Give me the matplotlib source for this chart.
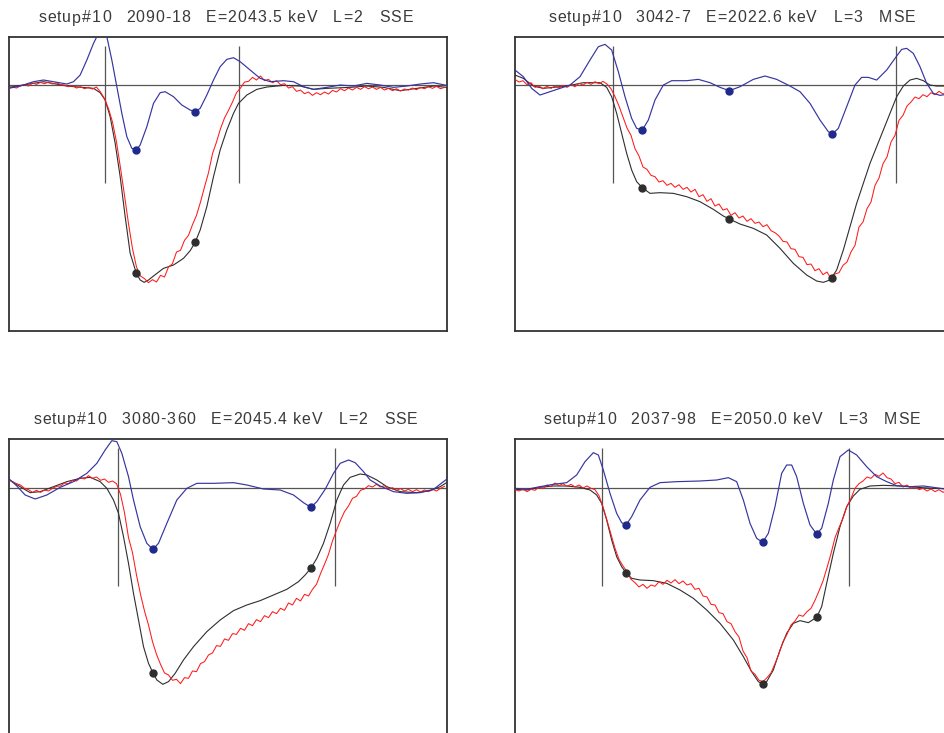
import numpy as np
import matplotlib
matplotlib.use("Agg")
import matplotlib.pyplot as plt

plt.rcParams['font.family'] = ['Liberation Sans', 'DejaVu Sans']

# ---------------- data (sample position, amplitude; baseline = 0) ----------------
titles = [
    ["setup#10", "2090-18", "E=2043.5 keV", "L=2", "SSE"],
    ["setup#10", "3042-7", "E=2022.6 keV", "L=3", "MSE"],
    ["setup#10", "3080-360", "E=2045.4 keV", "L=2", "SSE"],
    ["setup#10", "2037-98", "E=2050.0 keV", "L=3", "MSE"],
]
red_step = 12

# ---- panel 1 ----
p1_black_x = [0,105,175,255,275,290,305,320,335,350,365,383,395,407,420,435,465,495,525,545,560,575,595,615,635,655,675,690,715,745,775,825,875,915,955,1025,1075,1125,1175,1225,1275,1314]
p1_black_y = [-6,11,-2,-9,-22,-44,-94,-174,-274,-394,-504,-562,-584,-591,-584,-572,-549,-539,-519,-496,-471,-434,-364,-274,-194,-134,-84,-54,-29,-12,-5,0,-2,-12,-9,-6,-2,-6,-16,-9,-2,-6]
p1_blue_x = [0,35,75,105,135,175,195,215,235,255,270,280,295,310,325,340,355,370,383,395,415,435,455,470,495,520,545,560,575,595,615,635,655,675,695,725,755,785,825,855,885,915,955,995,1035,1075,1115,1155,1195,1235,1275,1314]
p1_blue_y = [-9,-2,11,16,11,4,11,31,76,126,156,166,146,76,-4,-84,-154,-189,-194,-179,-124,-54,-22,-19,-34,-59,-74,-79,-69,-29,16,56,78,83,71,46,21,11,14,11,-4,-12,-6,1,-2,6,1,-6,-2,4,8,0]
p1_red_y = [-9,-5,-8,-1,2,-2,7,3,9,5,10,4,8,2,1,-4,-1,-8,-4,-10,-6,-11,-5,-20,-40,-70,-110,-170,-248,-330,
            -415,-490,-545,-572,-580,-592,-583,-590,-570,-575,-545,-535,-500,-495,-465,-450,-418,-390,-350,-305,
            -262,-205,-170,-130,-98,-75,-50,-22,-8,10,12,24,16,28,14,18,8,14,2,5,
            -8,-4,-18,-14,-25,-20,-30,-22,-28,-20,-26,-15,-20,-10,-16,-8,-14,-6,-12,-4,
            -10,-5,-12,-6,-14,-9,-16,-10,-17,-11,-14,-8,-13,-6,-10,-4,-9,-3,-10,-6]
p1_marks_x = [383, 560]
p1_black_marks_y = [-562, -471]
p1_blue_marks_y = [-194, -79]
p1_vlines = [288, 691]

# ---- panel 2 ----
p2_black_x = [0,25,55,85,115,155,205,255,275,290,305,320,335,350,365,382,405,435,475,515,555,595,625,643,675,715,755,795,835,875,905,925,945,965,985,1005,1025,1045,1065,1085,1105,1125,1145,1165,1185,1205,1225,1245,1265,1314]
p2_black_y = [31,21,-2,-9,-6,-2,8,8,-6,-34,-84,-144,-204,-254,-289,-307,-324,-322,-324,-334,-349,-372,-392,-401,-416,-429,-449,-489,-534,-569,-587,-591,-584,-554,-494,-424,-354,-294,-234,-184,-134,-84,-34,-2,16,21,14,1,-2,-2]
p2_blue_x = [0,25,50,75,105,135,165,195,225,250,270,290,310,330,350,365,382,400,420,445,470,515,550,585,615,643,675,715,750,785,825,855,885,915,940,952,970,995,1020,1040,1060,1085,1115,1140,1160,1175,1195,1215,1235,1255,1275,1295,1314]
p2_blue_y = [46,26,-9,-29,-19,-9,1,26,76,116,123,106,41,-34,-99,-129,-134,-104,-44,1,14,14,18,8,-6,-16,-4,18,28,18,-2,-19,-54,-104,-139,-146,-129,-64,1,24,24,16,46,81,108,111,96,56,6,-24,-30,-27,-27]
p2_red_y = [18,10,14,2,8,-6,-2,-10,-3,-9,-2,-8,0,-6,2,-4,6,1,9,3,11,5,12,4,-10,-34,-62,-95,-128,-150,
            -190,-212,-245,-252,-270,-274,-290,-286,-300,-294,-306,-298,-312,-306,-320,-312,-334,-328,-348,-340,
            -362,-356,-374,-370,-390,-382,-398,-392,-408,-400,-414,-410,-424,-418,-436,-442,-452,-468,-470,-490,
            -492,-514,-516,-538,-536,-556,-550,-568,-560,-580,-566,-562,-540,-530,-500,-480,-425,-410,-370,-350,
            -300,-278,-235,-215,-170,-150,-105,-90,-62,-50,-35,-40,-28,-34,-22,-28,-18,-26,-20,-24]
p2_marks_x = [382, 643, 952]
p2_black_marks_y = [-307, -401, -579]
p2_blue_marks_y = [-134, -16, -146]
p2_vlines = [295, 1143]

# ---- panel 3 ----
p3_black_x = [0,35,65,95,135,175,215,245,275,295,315,330,345,360,375,390,405,420,433,445,463,480,500,525,555,595,635,675,715,755,795,835,870,890,907,925,945,965,985,1005,1025,1055,1075,1105,1135,1175,1225,1265,1295,1314]
p3_black_y = [25,3,-15,-12,3,18,28,31,18,-2,-37,-77,-147,-227,-317,-397,-477,-527,-555,-577,-590,-582,-557,-517,-477,-432,-397,-369,-352,-339,-322,-305,-282,-262,-242,-212,-167,-107,-37,8,31,41,38,23,3,-12,-15,-9,3,15]
p3_blue_x = [0,25,50,80,115,155,195,235,265,290,310,325,340,360,375,395,415,433,450,475,505,535,565,615,675,715,765,815,855,885,907,925,950,975,995,1020,1040,1065,1085,1115,1155,1195,1235,1275,1314]
p3_blue_y = [28,5,-22,-34,-22,1,18,43,73,113,141,138,103,33,-37,-117,-167,-185,-167,-107,-37,-2,13,13,15,8,-4,-7,-22,-45,-59,-42,-5,43,73,83,75,48,23,5,-12,-17,-15,-5,25]
p3_red_y = [24,18,12,8,-2,-6,-14,-8,-14,-7,-10,-2,4,5,14,12,22,20,30,26,36,28,32,22,26,16,20,12,-20,-75,
            -150,-195,-262,-320,-370,-412,-462,-500,-530,-556,-562,-578,-575,-588,-570,-572,-550,-552,-528,-522,
            -502,-496,-474,-476,-454,-458,-438,-440,-422,-428,-408,-414,-396,-402,-384,-390,-372,-378,-362,-368,
            -346,-352,-332,-340,-320,-325,-305,-290,-258,-230,-200,-160,-128,-98,-72,-55,-32,-26,-8,-4,
            6,2,10,2,6,-4,0,-8,-3,-10,-5,-12,-6,-13,-7,-12,-5,-10,-2,4]
p3_marks_x = [433, 907]
p3_black_marks_y = [-555, -242]
p3_blue_marks_y = [-185, -59]
p3_vlines = [327, 980]

# ---- panel 4 ----
p4_black_x = [0,35,75,115,155,195,225,245,260,275,290,305,320,333,350,375,415,455,495,535,575,615,655,685,710,730,743,755,775,795,815,835,855,880,905,920,935,955,975,995,1015,1035,1065,1105,1155,1205,1255,1295,1314]
p4_black_y = [-5,-7,1,5,5,1,-7,-22,-47,-97,-157,-207,-237,-255,-272,-277,-279,-287,-307,-332,-367,-407,-457,-507,-552,-582,-589,-582,-547,-487,-437,-407,-399,-405,-389,-357,-287,-197,-117,-57,-25,-5,5,7,5,1,-2,-3,-3]
p4_blue_x = [0,35,75,115,155,185,210,235,250,265,285,305,320,333,350,375,405,435,485,555,605,640,665,685,705,725,743,760,780,800,815,830,845,865,885,905,920,940,955,975,1000,1025,1055,1085,1115,1145,1185,1225,1255,1295,1314]
p4_blue_y = [-2,-5,3,10,15,38,78,105,98,53,-17,-77,-105,-112,-87,-37,1,15,18,20,23,30,18,-37,-107,-152,-164,-137,-57,43,68,68,33,-47,-112,-139,-122,-47,23,93,113,98,63,33,18,6,3,5,1,-5,-8]
p4_red_y = [-6,-10,-4,-12,-5,-8,2,-3,8,3,14,6,12,4,10,2,8,-1,5,-2,-6,-24,-58,-98,-140,-182,-215,-235,-252,-275,
            -285,-298,-290,-302,-292,-296,-282,-290,-278,-286,-276,-288,-280,-292,-288,-305,-302,-325,-328,-350,
            -352,-375,-378,-402,-408,-432,-448,-490,-510,-550,-560,-578,-582,-570,-556,-528,-498,-462,-440,-412,
            -400,-382,-386,-372,-362,-338,-310,-280,-240,-198,-150,-120,-92,-56,-32,-2,12,20,32,28,
            40,34,44,30,26,12,16,2,8,-2,4,-6,-2,-10,-4,-12,-6,-14,-8,-12]
p4_marks_x = [333, 743, 905]
p4_black_marks_y = [-255, -589, -389]
p4_blue_marks_y = [-112, -164, -139]
p4_vlines = [262, 1003]

vline_range = (118, -294)

panels = [
    (p1_black_x, p1_black_y, p1_blue_x, p1_blue_y, p1_red_y, p1_marks_x, p1_black_marks_y, p1_blue_marks_y, p1_vlines),
    (p2_black_x, p2_black_y, p2_blue_x, p2_blue_y, p2_red_y, p2_marks_x, p2_black_marks_y, p2_blue_marks_y, p2_vlines),
    (p3_black_x, p3_black_y, p3_blue_x, p3_blue_y, p3_red_y, p3_marks_x, p3_black_marks_y, p3_blue_marks_y, p3_vlines),
    (p4_black_x, p4_black_y, p4_blue_x, p4_blue_y, p4_red_y, p4_marks_x, p4_black_marks_y, p4_blue_marks_y, p4_vlines),
]

# ---------------- layout ----------------
W, H = 944, 733
fig = plt.figure(figsize=(W / 100, H / 100), dpi=100)
fig.patch.set_facecolor('white')
renderer = fig.canvas.get_renderer()

ax_w, ax_h = 438, 294.3
frames = [(8.5, 36.7), (515, 36.7), (8.5, 439), (515, 439)]   # left, top in pixels
# left pixel position of each title token, and title baseline
token_x = [
    [38.3, 126, 206, 333, 379],
    [548.3, 635, 706, 833.3, 879],
    [33.3, 121, 211, 338.3, 384],
    [543.3, 630.7, 711, 838.3, 884],
]
title_base = [22.5, 22.5, 424.0, 424.0]
title_fs = 11.4
letter_gap = 1.0   # px of extra tracking between letters

blue_c = '#3535a0'
dot_blue = '#1f2a8a'
black_c = '#2e2e2e'
red_c = '#ff1a1a'
grey_c = '#555555'


def spaced_text(x_px, y_px, s):
    x = x_px
    for ch in s:
        if ch == ' ':
            x += 0.278 * title_fs * 100 / 72 + letter_gap
            continue
        t = fig.text(x / W, 1 - y_px / H, ch, ha='left', va='baseline',
                     fontsize=title_fs, color='#3a3a3a')
        bb = t.get_window_extent(renderer)
        x += bb.width + letter_gap


for i, (bx, by, ux, uy, ry, mx, mby, muy, vl) in enumerate(panels):
    left, top = frames[i]
    ax = fig.add_axes([left / W, (H - top - ax_h) / H, ax_w / W, ax_h / H])
    ax.set_xlim(0, 1314)
    ax.set_ylim(-737, 146)
    ax.set_xticks([])
    ax.set_yticks([])
    for s in ax.spines.values():
        s.set_color('#333333')
        s.set_linewidth(1.3)
    if i >= 2:
        ax.spines['bottom'].set_visible(False)

    ax.axhline(0, color=grey_c, lw=0.9, zorder=1)
    ax.vlines(vl, vline_range[1], vline_range[0], color=grey_c, lw=0.9, zorder=1)

    rx = np.arange(len(ry)) * red_step
    ax.plot(bx, by, color=black_c, lw=0.8, zorder=2)
    ax.plot(rx, ry, color=red_c, lw=0.75, zorder=3)
    ax.plot(ux, uy, color=blue_c, lw=0.85, zorder=4)
    ax.plot(mx, mby, 'o', color=black_c, ms=5, zorder=5)
    ax.plot(mx, muy, 'o', color=dot_blue, ms=5, zorder=5)

    for tok, tx in zip(titles[i], token_x[i]):
        spaced_text(tx, title_base[i], tok)

fig.savefig('out.png', dpi=100)
